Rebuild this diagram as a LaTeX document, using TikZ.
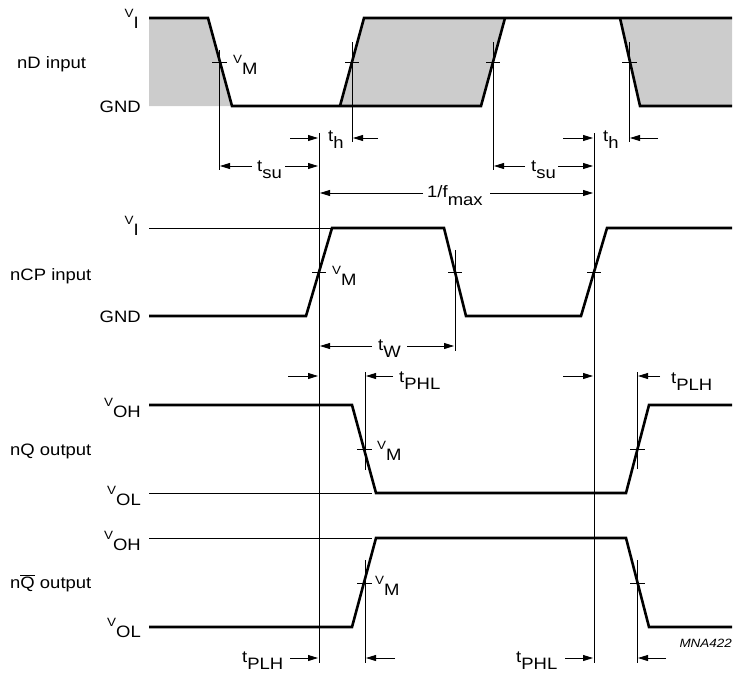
\documentclass[tikz,border=0pt]{standalone}
\usepackage{fontspec}
\setmainfont{Liberation Sans}[FakeStretch=1.12]
\usetikzlibrary{arrows.meta}
\definecolor{graybg}{RGB}{204,204,204}
\newcommand{\tlab}[1]{t\raisebox{-7pt}{#1}}
\newcommand{\vlab}[1]{{\fontsize{12pt}{13pt}\selectfont V}\raisebox{-10.5pt}{#1}}
\begin{document}
\begin{tikzpicture}[x=1pt,y=-1pt,
  sig/.style={line width=2.6pt, line join=miter},
  thinln/.style={line width=0.85pt},
  dim/.style={line width=0.85pt,-{Triangle[length=10pt,width=6pt]}},
  txt/.style={inner sep=0pt, anchor=base west, font=\fontsize{16.5pt}{18pt}\selectfont},
  rtxt/.style={inner sep=0pt, anchor=base east, font=\fontsize{16.5pt}{18pt}\selectfont},
  gfill/.style={fill=graybg, draw=none}]
\useasboundingbox (0,0) rectangle (736,675);

% ---------- grey "changing data" areas of nD ----------
\fill[gfill] (149,18) -- (208,18) -- (232,106) -- (149,106) -- cycle;
\fill[gfill] (340,106) -- (364,18) -- (505,18) -- (481,106) -- cycle;
\fill[gfill] (620,18) -- (732,18) -- (732,106) -- (640,106) -- cycle;

% ---------- thin vertical reference lines ----------
\draw[thinln] (219,50) -- (219,170);
\draw[thinln] (352,42) -- (352,142);
\draw[thinln] (493,42) -- (493,170);
\draw[thinln] (629,42) -- (629,142);
\draw[thinln] (319,133) -- (319,663);
\draw[thinln] (594,133) -- (594,663);
\draw[thinln] (455,250) -- (455,351);
\draw[thinln] (365,372) -- (365,470);
\draw[thinln] (637,372) -- (637,469);
\draw[thinln] (365,560) -- (365,663);
\draw[thinln] (637,560) -- (637,663);

% ---------- thin level lines ----------
\draw[thinln] (149,228) -- (332,228);
\draw[thinln] (149,493) -- (372,493);
\draw[thinln] (149,538) -- (372,538);

% ---------- signals ----------
% nD
\draw[sig] (149,18) -- (208,18) -- (232,106) -- (481,106) -- (505,18);
\draw[sig] (340,106) -- (364,18) -- (732,18);
\draw[sig] (620,18) -- (640,106) -- (732,106);
% nCP
\draw[sig] (149,316) -- (306,316) -- (332,228) -- (444,228) -- (466,316) -- (581,316) -- (607,228) -- (732,228);
% nQ
\draw[sig] (149,405) -- (352,405) -- (376,493) -- (626,493) -- (649,405) -- (732,405);
% nQbar
\draw[sig] (149,627) -- (352,627) -- (376,538) -- (626,538) -- (649,627) -- (732,627);

% ---------- V_M ticks ----------
\draw[thinln] (212,62) -- (227,62);
\draw[thinln] (345,62) -- (359,62);
\draw[thinln] (486,62) -- (500,62);
\draw[thinln] (622,62) -- (637,62);
\draw[thinln] (312,272) -- (326,272);
\draw[thinln] (448,272) -- (462,272);
\draw[thinln] (587,272) -- (601,272);
\draw[thinln] (357,449) -- (372,449);
\draw[thinln] (630,449) -- (645,449);
\draw[thinln] (357,583) -- (372,583);
\draw[thinln] (630,583) -- (645,583);

% ---------- dimension arrows ----------
\draw[dim] (290,138) -- (318,138);
\draw[dim] (378,138) -- (353,138);
\draw[dim] (563,138) -- (593,138);
\draw[dim] (658,138) -- (630,138);

\draw[dim] (252,166) -- (220,166);
\draw[dim] (285,166) -- (318,166);
\draw[dim] (525,166) -- (494,166);
\draw[dim] (558,166) -- (593,166);

\draw[dim] (423,193) -- (320,193);
\draw[dim] (490,193) -- (593,193);

\draw[dim] (372,346) -- (320,346);
\draw[dim] (407,346) -- (454,346);

\draw[dim] (288,376) -- (318,376);
\draw[dim] (393,376) -- (366,376);
\draw[dim] (563,376) -- (593,376);
\draw[dim] (660,376) -- (638,376);

\draw[dim] (290,658) -- (318,658);
\draw[dim] (395,658) -- (366,658);
\draw[dim] (565,658) -- (593,658);
\draw[dim] (666,658) -- (638,658);

% ---------- signal names ----------
\node[txt] (nD) at (17,68) {nD input};
\node[txt] (nCP) at (10,280) {nCP input};
\node[txt] (nQ) at (10,455) {nQ output};
\node[txt] (nQb) at (10,588) {n$\overline{\mbox{Q}}$ output};

% ---------- level labels ----------
\node[rtxt] (viD) at (139,17.5) {\vlab{I}};
\node[rtxt] (gndD) at (141,112) {GND};
\node[rtxt] (viC) at (139,224.5) {\vlab{I}};
\node[rtxt] (gndC) at (141,322) {GND};
\node[rtxt] (vohQ) at (141,406.5) {\vlab{OH}};
\node[rtxt] (volQ) at (141,494.5) {\vlab{OL}};
\node[rtxt] (vohB) at (141,539.5) {\vlab{OH}};
\node[rtxt] (volB) at (141,626.5) {\vlab{OL}};

% ---------- V_M labels ----------
\node[txt] (vmD) at (233,63.5) {\vlab{M}};
\node[txt] (vmC) at (332,274.5) {\vlab{M}};
\node[txt] (vmQ) at (377,449.5) {\vlab{M}};
\node[txt] (vmB) at (375,584.5) {\vlab{M}};

% ---------- timing labels ----------
\node[txt] (th1) at (328,141) {\tlab{h}};
\node[txt] (th2) at (603,141) {\tlab{h}};
\node[txt] (tsu1) at (257,171) {\tlab{su}};
\node[txt] (tsu2) at (531,171) {\tlab{su}};
\node[txt] (fmax) at (427,197) {1/f\raisebox{-8pt}{max}};
\node[txt] (tw) at (378,350) {\tlab{W}};
\node[txt] (tphl1) at (399,382) {\tlab{PHL}};
\node[txt] (tplh1) at (671,383) {\tlab{PLH}};
\node[txt] (tplh2) at (242,662) {\tlab{PLH}};
\node[txt] (tphl2) at (516,662) {\tlab{PHL}};
\node[inner sep=0pt, anchor=base east, font=\fontsize{12pt}{13pt}\selectfont\itshape] (code) at (732,647) {MNA422};
\end{tikzpicture}
\end{document}
